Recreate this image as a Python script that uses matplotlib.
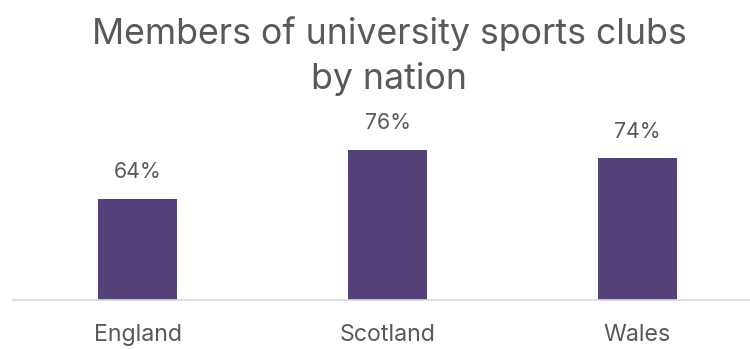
import matplotlib
matplotlib.use("Agg")
import matplotlib.pyplot as plt

nations = ["England", "Scotland", "Wales"]
members_pct = [64, 76, 74]
value_labels = ["64%", "76%", "74%"]
title = "Members of university sports clubs\nby nation"

bar_color = "#54417a"
text_color = "#595959"
axis_color = "#d9d9d9"

plt.rcParams["font.family"] = ["Inter", "DejaVu Sans"]

fig = plt.figure(figsize=(7.5, 3.49), dpi=100)
fig.patch.set_facecolor("white")
ax = fig.add_axes([12.5 / 750, 49 / 349, 1.0, 190 / 349])

x = range(len(nations))
ax.bar(x, members_pct, width=0.316, color=bar_color, zorder=2)
ax.set_xlim(-0.5, 2.5)
ax.set_ylim(39.3, 85.8)

for xi, v, lab in zip(x, members_pct, value_labels):
    ax.annotate(lab, (xi, v), xytext=(0, 12), textcoords="offset points",
                ha="center", va="bottom", fontsize=15.3, color=text_color)

ax.set_xticks(list(x))
ax.set_xticklabels(nations, fontsize=16.7, color=text_color)
ax.tick_params(axis="x", length=0, pad=17)
ax.set_yticks([])
for side in ["top", "right", "left"]:
    ax.spines[side].set_visible(False)
ax.spines["bottom"].set_color(axis_color)
ax.spines["bottom"].set_linewidth(1.2)

fig.text(389 / 750, 1 - 56 / 349, title, ha="center", va="center",
         fontsize=25.7, color=text_color, linespacing=1.4)

fig.savefig("out.png", dpi=100, facecolor="white")
